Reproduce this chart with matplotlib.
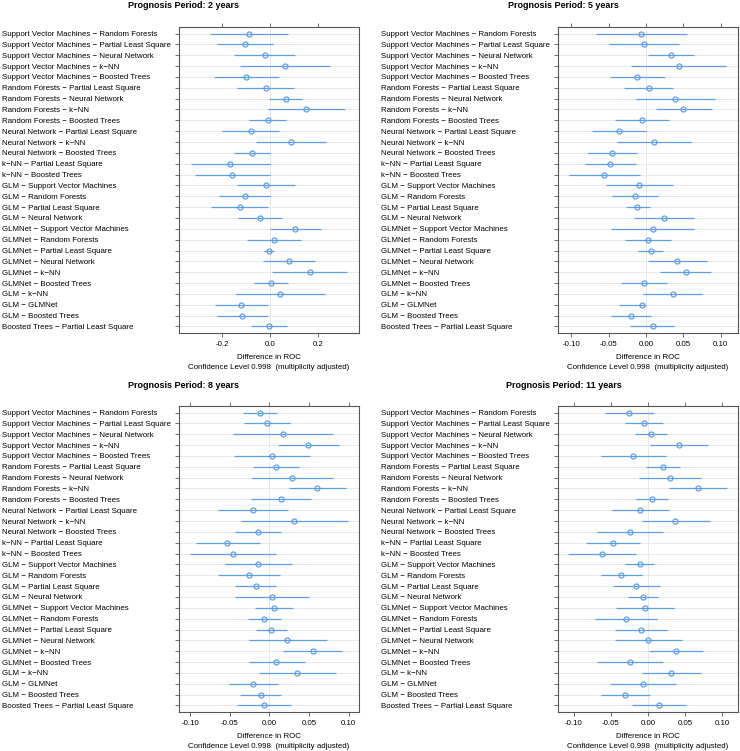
import matplotlib
matplotlib.use('Agg')
import matplotlib.pyplot as plt

plt.rcParams['font.family'] = ['Liberation Sans', 'DejaVu Sans']
plt.rcParams['axes.unicode_minus'] = False

comparisons = [
    "Support Vector Machines − Random Forests",
    "Support Vector Machines − Partial Least Square",
    "Support Vector Machines − Neural Network",
    "Support Vector Machines − k−NN",
    "Support Vector Machines − Boosted Trees",
    "Random Forests − Partial Least Square",
    "Random Forests − Neural Network",
    "Random Forests − k−NN",
    "Random Forests − Boosted Trees",
    "Neural Network − Partial Least Square",
    "Neural Network − k−NN",
    "Neural Network − Boosted Trees",
    "k−NN − Partial Least Square",
    "k−NN − Boosted Trees",
    "GLM − Support Vector Machines",
    "GLM − Random Forests",
    "GLM − Partial Least Square",
    "GLM − Neural Network",
    "GLMNet − Support Vector Machines",
    "GLMNet − Random Forests",
    "GLMNet − Partial Least Square",
    "GLMNet − Neural Network",
    "GLMNet − k−NN",
    "GLMNet − Boosted Trees",
    "GLM − k−NN",
    "GLM − GLMNet",
    "GLM − Boosted Trees",
    "Boosted Trees − Partial Least Square",
]

titles = ["Prognosis Period: 2 years", "Prognosis Period: 5 years",
          "Prognosis Period: 8 years", "Prognosis Period: 11 years"]

est_2y = [-0.086, -0.106, -0.022, 0.062, -0.098, -0.018, 0.065, 0.152, -0.010, -0.080,
          0.087, -0.073, -0.167, -0.159, -0.018, -0.106, -0.126, -0.041, 0.105, 0.017,
          -0.004, 0.081, 0.166, 0.004, 0.043, -0.120, -0.117, -0.006]
lo_2y = [-0.248, -0.221, -0.148, -0.124, -0.232, -0.137, -0.003, -0.007, -0.086, -0.199,
         -0.059, -0.148, -0.331, -0.314, -0.137, -0.211, -0.244, -0.134, -0.001, -0.097,
         -0.023, -0.028, 0.007, -0.066, -0.143, -0.229, -0.222, -0.080]
hi_2y = [0.077, 0.011, 0.106, 0.251, 0.036, 0.102, 0.134, 0.313, 0.068, 0.036,
         0.234, 0.001, 0.001, -0.001, 0.106, 0.001, -0.007, 0.050, 0.214, 0.131,
         0.017, 0.189, 0.321, 0.077, 0.230, -0.010, -0.010, 0.070]

est_5y = [-0.0067, -0.0031, 0.0329, 0.0441, -0.0116, 0.0036, 0.0392, 0.0499, -0.0053, -0.0365,
          0.0107, -0.0450, -0.0476, -0.0557, -0.0089, -0.0151, -0.0116, 0.0245, 0.0089, 0.0022,
          0.0062, 0.0419, 0.0530, -0.0027, 0.0356, -0.0053, -0.0200, 0.0089]
lo_5y = [-0.0668, -0.0499, 0.0027, -0.0200, -0.0485, -0.0298, -0.0138, 0.0129, -0.0414, -0.0726,
         -0.0392, -0.0779, -0.0810, -0.1033, -0.0539, -0.0454, -0.0272, -0.0160, -0.0463, -0.0280,
         -0.0102, 0.0022, 0.0187, -0.0338, -0.0036, -0.0361, -0.0467, -0.0209]
hi_5y = [0.0543, 0.0445, 0.0641, 0.1073, 0.0249, 0.0365, 0.0926, 0.0886, 0.0312, 0.0000,
         0.0606, -0.0116, -0.0129, -0.0085, 0.0365, 0.0160, 0.0049, 0.0646, 0.0637, 0.0329,
         0.0232, 0.0819, 0.0873, 0.0285, 0.0748, 0.0004, 0.0071, 0.0378]

est_8y = [-0.0118, -0.0034, 0.0169, 0.0490, 0.0030, 0.0080, 0.0288, 0.0605, 0.0148, -0.0207,
          0.0313, -0.0148, -0.0529, -0.0465, -0.0148, -0.0258, -0.0173, 0.0030, 0.0055, -0.0063,
          0.0025, 0.0228, 0.0545, 0.0089, 0.0347, -0.0203, -0.0110, -0.0068]
lo_8y = [-0.0334, -0.0317, -0.0457, 0.0106, -0.0444, -0.0203, -0.0220, 0.0249, -0.0233, -0.0651,
         -0.0364, -0.0431, -0.0930, -0.1006, -0.0558, -0.0647, -0.0431, -0.0431, -0.0178, -0.0266,
         -0.0169, -0.0254, 0.0173, -0.0262, -0.0135, -0.0507, -0.0372, -0.0410]
hi_8y = [0.0093, 0.0258, 0.0803, 0.0880, 0.0512, 0.0372, 0.0799, 0.0968, 0.0524, 0.0233,
         0.0994, 0.0148, -0.0114, 0.0089, 0.0283, 0.0131, 0.0089, 0.0495, 0.0292, 0.0152,
         0.0216, 0.0723, 0.0913, 0.0444, 0.0841, 0.0106, 0.0152, 0.0271]

est_11y = [-0.0252, -0.0054, 0.0045, 0.0418, -0.0198, 0.0198, 0.0297, 0.0670, 0.0058, -0.0103,
           0.0369, -0.0247, -0.0472, -0.0616, -0.0108, -0.0360, -0.0162, -0.0063, -0.0040, -0.0297,
           -0.0094, 0.0004, 0.0378, -0.0243, 0.0310, -0.0067, -0.0310, 0.0144]
lo_11y = [-0.0584, -0.0310, -0.0171, 0.0022, -0.0638, -0.0031, -0.0126, 0.0283, -0.0157, -0.0490,
          -0.0076, -0.0692, -0.0836, -0.1070, -0.0306, -0.0638, -0.0476, -0.0265, -0.0436, -0.0715,
          -0.0440, -0.0445, 0.0009, -0.0683, -0.0085, -0.0512, -0.0638, -0.0220]
hi_11y = [0.0081, 0.0202, 0.0256, 0.0813, 0.0243, 0.0431, 0.0719, 0.1056, 0.0274, 0.0288,
          0.0831, 0.0202, -0.0112, -0.0162, 0.0081, -0.0081, 0.0162, 0.0139, 0.0351, 0.0121,
          0.0256, 0.0463, 0.0742, 0.0202, 0.0715, 0.0378, 0.0031, 0.0508]

xticks_2y = [-0.2, 0.0, 0.2]
xticks_other = [-0.10, -0.05, 0.00, 0.05, 0.10]

xlabel = "Difference in ROC"
conf_label = "Confidence Level 0.998  (multiplicity adjusted)"

W, H = 740, 751
fig = plt.figure(figsize=(W / 100, H / 100), dpi=100)

LINE_C = '#5d9fe6'
BOX_C = '#555555'
GRID_C = '#e8e8e8'
FS = 5.7

# (title, est, lo, hi, xlim, ticks, box x0, box x1, box top, box bottom, title x, title y)
panels = [
    (titles[0], est_2y, lo_2y, hi_2y, (-0.379, 0.371), xticks_2y, 179, 359, 27, 333, 184, 5.5),
    (titles[1], est_5y, lo_5y, hi_5y, (-0.1175, 0.123), xticks_other, 558, 738, 27, 333, 563, 5.5),
    (titles[2], est_8y, lo_8y, hi_8y, (-0.114, 0.113), xticks_other, 179, 359, 406, 712, 184, 385),
    (titles[3], est_11y, lo_11y, hi_11y, (-0.121, 0.121), xticks_other, 558, 738, 406, 712, 564, 385),
]

n = len(comparisons)
rows = list(range(1, n + 1))

for (title, est, lo, hi, xlim, ticks, x0, x1, yt, yb, tx, ty) in panels:
    ax = fig.add_axes([x0 / W, 1 - yb / H, (x1 - x0) / W, (yb - yt) / H])
    for r in rows:
        ax.axhline(r, color=GRID_C, lw=0.7, zorder=0)
    ax.axvline(0, color=GRID_C, lw=0.7, zorder=0)
    ax.hlines(rows, lo, hi, color=LINE_C, lw=0.9, zorder=2)
    ax.plot(est, rows, 'o', mfc='none', mec=LINE_C, ms=3.6, mew=0.9, zorder=3)
    ax.set_xlim(*xlim)
    ax.set_ylim(n + 0.6, 0.4)
    ax.set_xticks(ticks)
    ax.set_xticklabels([f"{t:.1f}" if ticks is xticks_2y else f"{t:.2f}" for t in ticks])
    ax.set_yticks(rows)
    ax.set_yticklabels(comparisons, ha='left')
    ax.tick_params(axis='y', direction='out', length=2.9, width=0.6, color=BOX_C,
                   pad=124.6, labelsize=FS)
    ax.tick_params(axis='x', direction='out', length=2.9, width=0.6, color=BOX_C,
                   top=True, labeltop=False, pad=3.0, labelsize=FS)
    for s in ax.spines.values():
        s.set_color(BOX_C)
        s.set_linewidth(0.8)
    ax.annotate(xlabel, xy=(0.5, 0), xycoords='axes fraction', xytext=(0, -24),
                textcoords='offset pixels', ha='center', va='center', fontsize=FS)
    ax.annotate(conf_label, xy=(0.5, 0), xycoords='axes fraction', xytext=(0, -34),
                textcoords='offset pixels', ha='center', va='center', fontsize=FS)
    fig.text(tx / W, 1 - ty / H, title, ha='center', va='center',
             fontsize=6.5, fontweight='bold')

fig.savefig('out.png', dpi=100)
